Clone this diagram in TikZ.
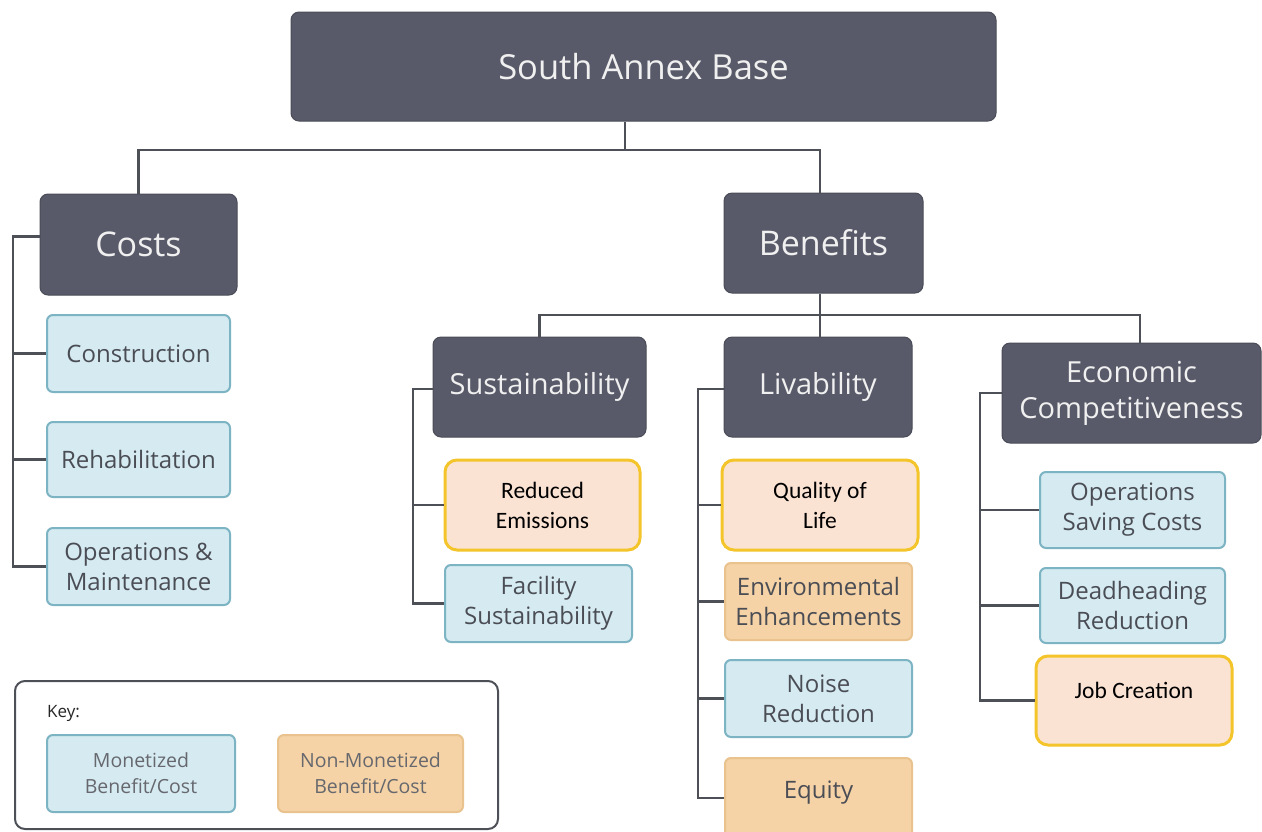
\documentclass[tikz,border=0pt]{standalone}
\usepackage{fontspec}
\setmainfont{Open Sans}
\newfontfamily\calib{Carlito}
\definecolor{darkbox}{HTML}{585A69}
\definecolor{darkedge}{HTML}{4A4C58}
\definecolor{bluefill}{HTML}{D5EAF1}
\definecolor{blueedge}{HTML}{7DB4C4}
\definecolor{orfill}{HTML}{F5D3A6}
\definecolor{oredge}{HTML}{E9C28E}
\definecolor{hlfill}{HTML}{FBE3D4}
\definecolor{hledge}{HTML}{F4C52A}
\definecolor{txt}{HTML}{4B4D55}
\definecolor{linec}{HTML}{4E5058}
\begin{document}
\begin{tikzpicture}[x=1pt,y=-1pt,
  sz/.style 2 args={minimum width=#1, minimum height=#2},
  darkn/.style={rounded corners=8pt, fill=darkbox, draw=darkedge, line width=1pt, text=white!88!gray, align=center, inner sep=0pt, font=\fontsize{34}{40}\selectfont},
  bluen/.style={rounded corners=6pt, fill=bluefill, draw=blueedge, line width=2pt, text=txt, align=center, inner sep=0pt, font=\fontsize{24}{30}\selectfont},
  orn/.style={rounded corners=6pt, fill=orfill, draw=oredge, line width=2pt, text=txt, align=center, inner sep=0pt, font=\fontsize{24}{30}\selectfont},
  hln/.style={rounded corners=12pt, fill=hlfill, draw=hledge, line width=3pt, text=black, align=center, inner sep=0pt, font=\calib\fontsize{23.5}{30}\selectfont},
  conn/.style={draw=linec, line width=2.5pt}]
\useasboundingbox (0,0) rectangle (1262,831);
\clip (0,0) rectangle (1262,831);
\fill[white] (0,0) rectangle (1262,831);

% top levels
\node[darkn, sz={705}{109}, font=\fontsize{34.5}{40}\selectfont] (top) at (643.5,66.5) {South Annex Base};
\node[darkn, sz={197}{101}] (costs) at (138.5,244.5) {Costs};
\node[darkn, sz={199}{100}] (benefits) at (823.5,243) {Benefits};
\node[darkn, sz={213}{100}, font=\fontsize{29}{36}\selectfont] (sust) at (539.5,387) {Sustainability};
\node[darkn, sz={188}{100}, font=\fontsize{29}{36}\selectfont] (liv) at (818,387) {Livability};
\node[darkn, sz={259}{100}, font=\fontsize{29}{36}\selectfont] (econ) at (1131.5,393) {Economic\\Competitiveness};

% costs
\node[bluen, sz={183}{77}] (constr) at (138.5,353.5) {Construction};
\node[bluen, sz={183}{75}] (rehab) at (138.5,459.5) {Rehabilitation};
\node[bluen, sz={183}{77}] (om) at (138.5,566.5) {Operations \&\\Maintenance};

% sustainability
\node[hln, sz={195}{90}] (redem) at (542.5,505) {Reduced\\Emissions};
\node[bluen, sz={187}{77}] (facil) at (538.5,603.5) {Facility\\Sustainability};

% livability
\node[hln, sz={196}{90}] (qol) at (820,505) {Quality of\\Life};
\node[orn, sz={187}{77}] (env) at (818.5,601.5) {Environmental\\Enhancements};
\node[bluen, sz={187}{77}] (noise) at (818.5,698.5) {Noise\\Reduction};
\node[orn, sz={187}{82}] (equity) at (818.5,799) {\raisebox{18pt}{Equity}};

% economic
\node[bluen, sz={185}{76}] (opsave) at (1132.5,510) {Operations\\Saving Costs};
\node[bluen, sz={185}{75}] (dead) at (1132.5,605.5) {Deadheading\\Reduction};
\node[hln, sz={196}{89}] (job) at (1134,700.5) {\raisebox{20pt}{Job Creation}};

% key
\node[draw=linec, line width=2pt, rounded corners=10pt, sz={483}{148}, inner sep=0pt] (key) at (256.5,755) {};
\node[anchor=west, text=black!85, inner sep=0pt, font=\fontsize{17}{20}\selectfont] (keyt) at (47,713) {Key:};
\node[bluen, sz={188}{77}, font=\fontsize{19.5}{26}\selectfont, text=txt!85] (mon) at (141,773.5) {Monetized\\Benefit/Cost};
\node[orn, sz={185}{77}, font=\fontsize{19.5}{26}\selectfont, text=txt!85] (nonmon) at (370.5,773.5) {Non-Monetized\\Benefit/Cost};

% connectors
\coordinate (j0) at (625,150);
\coordinate (j1) at (820,315);
\draw[conn] (top.south -| j0) -- (j0);
\draw[conn] (costs.north) -- (costs.north |- j0) -- ([xshift=-3.5pt]benefits.north |- j0) -- ([xshift=-3.5pt]benefits.north);
\draw[conn] (benefits.south -| j1) -- (liv.north -| j1);
\draw[conn] (sust.north) -- (sust.north |- j1) -- ([xshift=8.5pt]econ.north |- j1) -- ([xshift=8.5pt]econ.north);

% costs bracket
\coordinate (cb) at (13,0);
\draw[conn] ([yshift=8pt]costs.west) -| (cb |- om.west) -- (om.west);
\draw[conn] (cb |- constr.west) -- (constr.west);
\draw[conn] (cb |- rehab.west) -- (rehab.west);

% sustainability bracket
\coordinate (sb) at (413,0);
\draw[conn] ([yshift=-2pt]sust.west) -| (sb |- facil.west) -- (facil.west);
\draw[conn] (sb |- redem.west) -- (redem.west);

% livability bracket
\coordinate (lb) at (698,0);
\draw[conn] ([yshift=-2pt]liv.west) -| (lb |- 0,798) -- (equity.west |- 0,798);
\draw[conn] (lb |- qol.west) -- (qol.west);
\draw[conn] (lb |- env.west) -- (env.west);
\draw[conn] (lb |- noise.west) -- (noise.west);

% economic bracket
\coordinate (eb) at (980,0);
\draw[conn] (econ.west) -| (eb |- job.west) -- (job.west);
\draw[conn] (eb |- opsave.west) -- (opsave.west);
\draw[conn] (eb |- dead.west) -- (dead.west);
\end{tikzpicture}
\end{document}
